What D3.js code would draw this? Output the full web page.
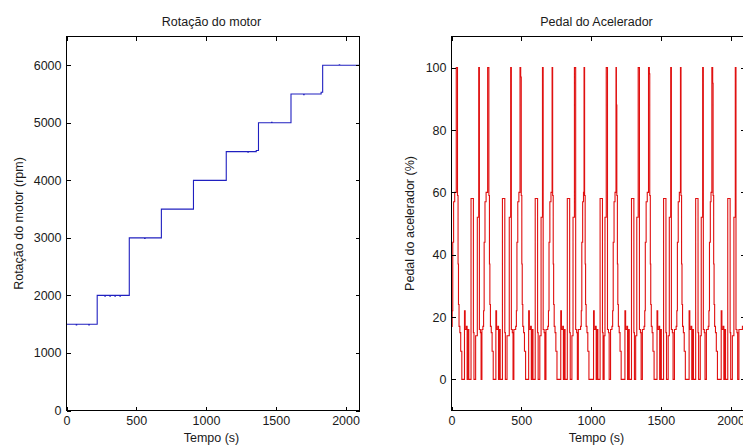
<!DOCTYPE html>
<html><head><meta charset="utf-8">
<script src="https://cdn.jsdelivr.net/npm/d3@7"></script>
<style>
body{margin:0;background:#fff}
text{font-family:"Liberation Sans",Arial,Helvetica,sans-serif;font-size:12.5px;fill:#1a1a1a}
</style>
</head><body>
<svg id="chart" width="743" height="445"></svg>
<script>
// ---- data ----
const xTicks = [0, 500, 1000, 1500, 2000];
const rpmTicks = [0, 1000, 2000, 3000, 4000, 5000, 6000];
const pedalTicks = [0, 20, 40, 60, 80, 100];

// engine speed (time s, rpm) – step signal
const rpmData = [
  [0,1500],[70,1485],[73,1500],[160,1485],[163,1500],
  [220,2000],[275,1985],[278,2000],[311,1985],[314,2000],[347,1985],[350,2000],[383,1985],[386,2000],
  [450,3000],[560,2990],[563,3000],
  [680,3500],
  [910,4000],
  [1145,4500],[1300,4490],[1303,4500],[1360,4520],
  [1376,5000],[1470,5010],[1473,5000],
  [1609,5500],[1700,5490],[1703,5500],[1825,5530],
  [1836,6000],[1955,6010],[1958,6000],[2100,6000]
];

// accelerator pedal (time s, %) – step signal
const pedalData = [
  [0,17],[5,22],[9,44],[15,57],[23,60],[34,100],[43,59],[47,37],[50,24],[54,17],[60,15],[66,9],[74,0],[86,0],[93,22],[98,16],[107,17],[112,0],[118,16],[124,0],[140,58],[157,15],[161,0],[173,14],[185,52],[195,100],[200,16],[207,15],[212,0],[218,16],
  [225,17],[230,22],[234,44],[240,57],[248,60],[259,100],[268,59],[272,37],[275,24],[279,17],[285,15],[291,9],[299,0],[311,0],[318,22],[323,16],[332,17],[337,0],[343,16],[349,0],[365,58],[382,15],[386,0],[398,14],[414,52],[424,100],[429,16],[436,15],[441,0],[447,16],
  [460,17],[465,22],[469,44],[475,57],[483,60],[491,100],[496,97],[500,59],[504,37],[507,24],[511,17],[517,15],[523,9],[531,0],[546,0],[553,22],[558,16],[567,17],[572,0],[578,16],[584,0],[600,58],[617,15],[621,0],[633,14],[642,52],[652,100],[657,16],[664,15],[669,0],[677,16],
  [690,17],[695,22],[699,44],[705,57],[713,60],[721,100],[725,59],[729,37],[732,24],[736,17],[742,15],[748,9],[756,0],[776,0],[783,22],[788,16],[797,17],[802,0],[808,16],[814,0],[830,58],[847,15],[851,0],[863,14],[871,52],[881,100],[890,16],[897,15],[902,0],[909,16],
  [925,17],[930,22],[934,44],[940,57],[946,60],[950,100],[954,59],[958,37],[961,24],[965,17],[971,15],[977,9],[985,0],[1011,0],[1018,22],[1023,16],[1032,17],[1037,0],[1043,16],[1049,0],[1065,58],[1082,15],[1086,0],[1094,14],[1100,52],[1109,100],[1118,16],[1125,15],[1130,0],[1140,16],
  [1150,17],[1155,22],[1159,44],[1165,57],[1172,60],[1179,100],[1182,88],[1185,59],[1189,37],[1192,24],[1196,17],[1202,15],[1208,9],[1216,0],[1236,0],[1243,22],[1248,16],[1257,17],[1262,0],[1268,16],[1274,0],[1290,58],[1307,15],[1311,0],[1320,14],[1328,52],[1338,100],[1347,16],[1354,15],[1359,0],[1368,16],
  [1380,17],[1385,22],[1389,44],[1395,57],[1403,60],[1412,100],[1418,98],[1421,59],[1425,37],[1428,24],[1432,17],[1438,15],[1444,9],[1452,0],[1466,0],[1473,22],[1478,16],[1487,17],[1492,0],[1498,16],[1504,0],[1520,58],[1537,15],[1541,0],[1553,14],[1561,52],[1571,100],[1576,16],[1583,15],[1588,0],[1598,16],
  [1610,17],[1615,22],[1619,44],[1625,57],[1633,60],[1641,100],[1645,59],[1649,37],[1652,24],[1656,17],[1662,15],[1668,9],[1676,0],[1696,0],[1703,22],[1708,16],[1717,17],[1722,0],[1728,16],[1734,0],[1750,58],[1767,15],[1771,0],[1783,14],[1790,52],[1800,100],[1805,16],[1812,15],[1817,0],[1827,16],
  [1840,17],[1845,22],[1849,44],[1855,57],[1860,60],[1866,100],[1872,95],[1875,59],[1879,37],[1882,24],[1886,17],[1892,15],[1898,9],[1906,0],[1926,0],[1933,22],[1938,16],[1947,17],[1952,0],[1958,16],[1964,0],[1980,58],[1997,15],[2001,0],[2013,14],[2024,52],[2034,100],[2039,16],[2046,15],[2051,0],[2060,16],[2085,17],[2100,17]
];

// ---- drawing ----
const svg = d3.select("#chart");
svg.append("rect").attr("width",743).attr("height",445).attr("fill","#fff");
const fmt = d3.format("d");

function panel(cfg){
  const x = d3.scaleLinear().domain([0,2100]).range([cfg.left, cfg.right]);
  const y = d3.scaleLinear().domain(cfg.yDomain).range([cfg.bottom, cfg.top]);
  const g = svg.append("g");

  const line = d3.line().x(d=>x(d[0])).y(d=>y(d[1])).curve(d3.curveStepAfter);
  g.append("path").datum(cfg.data).attr("d", line)
    .attr("fill","none").attr("stroke",cfg.color).attr("stroke-width",1.1)
    .attr("stroke-linejoin","miter");

  const tl = 4;
  const ab = g.append("g").attr("transform",`translate(0,${cfg.bottom})`)
    .call(d3.axisBottom(x).tickValues(xTicks).tickFormat(fmt).tickSize(-tl).tickSizeOuter(0).tickPadding(6));
  const at = g.append("g").attr("transform",`translate(0,${cfg.top})`)
    .call(d3.axisTop(x).tickValues(xTicks).tickSize(-tl).tickSizeOuter(0).tickFormat(""));
  const al = g.append("g").attr("transform",`translate(${cfg.left},0)`)
    .call(d3.axisLeft(y).tickValues(cfg.yTicks).tickFormat(fmt).tickSize(-tl).tickSizeOuter(0).tickPadding(5));
  const ar = g.append("g").attr("transform",`translate(${cfg.right},0)`)
    .call(d3.axisRight(y).tickValues(cfg.yTicks).tickSize(-tl).tickSizeOuter(0).tickFormat(""));

  [ab,at,al,ar].forEach(a=>{
    a.selectAll("path.domain").remove();
    a.selectAll("line").attr("stroke","#000").attr("shape-rendering","crispEdges");
    a.selectAll("text").attr("font-family",null).attr("font-size",null).attr("fill","#1a1a1a");
  });
  ab.selectAll("text").attr("y",6).attr("dy","0.71em");

  g.append("rect").attr("x",cfg.left).attr("y",cfg.top)
    .attr("width",cfg.right-cfg.left).attr("height",cfg.bottom-cfg.top)
    .attr("fill","none").attr("stroke","#000").attr("stroke-width",1)
    .attr("shape-rendering","crispEdges");

  const cx = (cfg.left+cfg.right)/2 - 1.5;
  g.append("text").attr("x",cx).attr("y",26).attr("text-anchor","middle").text(cfg.title);
  g.append("text").attr("x",cx).attr("y",442).attr("text-anchor","middle").text("Tempo (s)");
  g.append("text").attr("transform",`translate(${cfg.ylabX},${(cfg.top+cfg.bottom)/2}) rotate(-90)`)
    .attr("text-anchor","middle").text(cfg.ylab);
}

panel({left:66.5, right:359.5, top:36.5, bottom:410.5, yDomain:[0,6500], yTicks:rpmTicks,
  data:rpmData, color:"#2020c0", title:"Rotação do motor", ylab:"Rotação do motor (rpm)", ylabX:23});
panel({left:451.5, right:744.5, top:36.5, bottom:410.5, yDomain:[-10,110], yTicks:pedalTicks,
  data:pedalData, color:"#e01010", title:"Pedal do Acelerador", ylab:"Pedal do acelerador (%)", ylabX:414});
</script>
</body></html>
